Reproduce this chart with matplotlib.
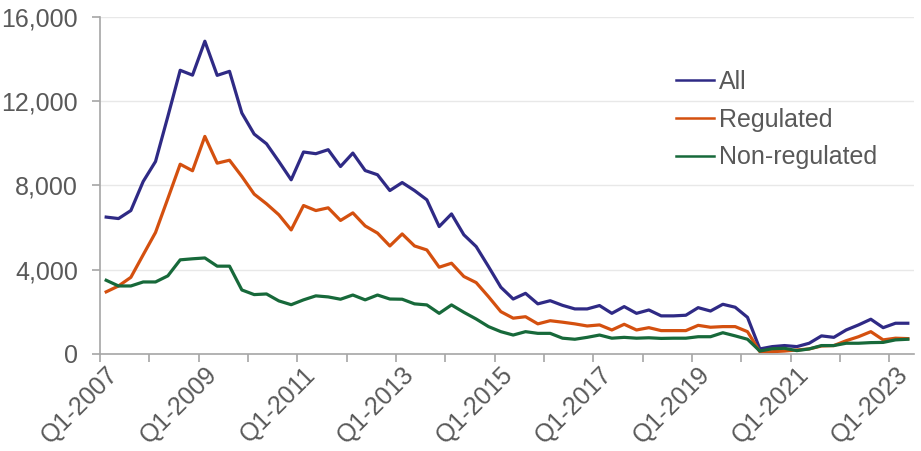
import matplotlib.pyplot as plt

quarters = [f"Q{q}-{y}" for y in range(2007, 2024) for q in range(1, 5)][:66]

all_loans = [6500, 6430, 6810, 8190, 9140, 11280, 13470, 13240, 14850, 13230,
             13420, 11440, 10440, 9980, 9140, 8270, 9590, 9510, 9700, 8900,
             9540, 8710, 8510, 7760, 8140, 7760, 7320, 6050, 6650, 5660,
             5100, 4150, 3170, 2610, 2880, 2380, 2530, 2310, 2140, 2140,
             2300, 1930, 2250, 1930, 2090, 1810, 1810, 1840, 2200, 2040,
             2360, 2220, 1740, 240, 350, 400, 350, 510, 860, 790,
             1140, 1380, 1650, 1250, 1460, 1460]

regulated = [2950, 3230, 3640, 4710, 5770, 7380, 9010, 8700, 10330, 9060,
             9200, 8430, 7590, 7130, 6610, 5890, 7050, 6810, 6940, 6340,
             6700, 6080, 5740, 5130, 5700, 5130, 4940, 4120, 4310, 3680,
             3390, 2720, 2010, 1700, 1770, 1430, 1580, 1510, 1430, 1330,
             1380, 1140, 1410, 1140, 1250, 1110, 1110, 1110, 1360, 1270,
             1300, 1300, 1060, 110, 110, 140, 190, 240, 380, 400,
             630, 820, 1060, 670, 750, 730]

non_regulated = [3500, 3230, 3230, 3420, 3420, 3710, 4470, 4520, 4560, 4170,
                 4170, 3040, 2820, 2850, 2520, 2340, 2570, 2760, 2710, 2600,
                 2800, 2570, 2800, 2610, 2600, 2380, 2330, 1930, 2330, 1980,
                 1660, 1300, 1060, 900, 1060, 980, 980, 750, 700, 790,
                 900, 750, 790, 750, 770, 740, 750, 750, 820, 820,
                 1010, 860, 700, 140, 250, 270, 160, 240, 400, 400,
                 510, 510, 540, 550, 670, 700]

plt.rcParams['font.family'] = ['Liberation Sans', 'DejaVu Sans']
text_col = '#595959'

fig, ax = plt.subplots(figsize=(9.21, 4.51), dpi=100)
fig.subplots_adjust(left=0.1086, right=0.9924, bottom=0.2151, top=0.9623)

x = list(range(len(quarters)))
ax.plot(x, all_loans, color='#2f2a85', lw=2.3, label='All')
ax.plot(x, regulated, color='#d4500f', lw=2.3, label='Regulated')
ax.plot(x, non_regulated, color='#17693a', lw=2.3, label='Non-regulated')

ax.set_xlim(-0.5, len(quarters) - 0.5)
ax.set_ylim(0, 16000)
ax.set_yticks([0, 4000, 8000, 12000, 16000])
ax.set_yticklabels([f"{v:,}" for v in [0, 4000, 8000, 12000, 16000]])
ax.grid(axis='y', color='#e8e8e8', lw=1)
ax.set_axisbelow(True)

# tick marks between categories, labels centred on every 8th quarter
ax.set_xticks([i - 0.5 for i in range(0, len(quarters), 4)])
ax.set_xticklabels([])
ax.set_xticks(list(range(0, len(quarters), 8)), minor=True)
ax.set_xticklabels(quarters[::8], minor=True, rotation=45, ha='right',
                   rotation_mode='anchor')
ax.tick_params(axis='x', which='minor', length=0, pad=6)
ax.tick_params(axis='x', which='major', length=5.5, width=1.2, color='#a6a6a6')
ax.tick_params(axis='y', length=6, width=1.2, color='#a6a6a6', pad=10)
ax.tick_params(which='both', labelsize=18, labelcolor=text_col)

for s in ['top', 'right']:
    ax.spines[s].set_visible(False)
for s in ['left', 'bottom']:
    ax.spines[s].set_color('#a6a6a6')
    ax.spines[s].set_linewidth(1.2)

leg = ax.legend(loc='upper left', bbox_to_anchor=(0.68, 0.91), frameon=False,
                fontsize=18, handlelength=1.5, handletextpad=0.2,
                labelspacing=0.55, labelcolor=text_col)
for line in leg.get_lines():
    line.set_linewidth(1.8)

plt.savefig("out.png", dpi=100)
